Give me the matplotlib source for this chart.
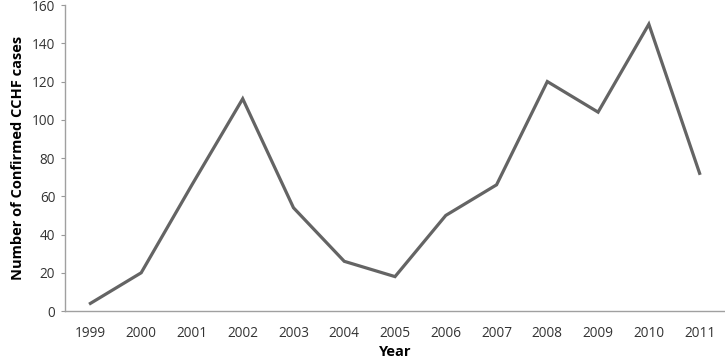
import matplotlib.pyplot as plt

years = ["1999", "2000", "2001", "2002", "2003", "2004", "2005",
         "2006", "2007", "2008", "2009", "2010", "2011"]
cases = [4, 20, 66, 111, 54, 26, 18, 50, 66, 120, 104, 150, 72]
y_ticks = [0, 20, 40, 60, 80, 100, 120, 140, 160]

plt.rcParams['font.family'] = ['Open Sans', 'DejaVu Sans']

fig = plt.figure(figsize=(7.25, 3.6), dpi=100)
ax = fig.add_axes([0.0897, 0.136, 0.9103, 0.850])

x = list(range(len(years)))
ax.plot(x, cases, color="#646464", linewidth=2.3, solid_joinstyle="miter")

ax.set_xlim(-0.5, len(years) - 0.5)
ax.set_ylim(0, 160)
ax.set_xticks(x)
ax.set_xticklabels(years, fontsize=9.8, color="#333333")
ax.set_yticks(y_ticks)
ax.set_yticklabels([str(v) for v in y_ticks], fontsize=9.8, color="#333333")

ax.tick_params(axis="x", length=0, pad=11)
ax.tick_params(axis="y", length=3, color="#999999", pad=4)

for side in ["top", "right"]:
    ax.spines[side].set_visible(False)
for side in ["left", "bottom"]:
    ax.spines[side].set_color("#a0a0a0")
    ax.spines[side].set_linewidth(1.0)

ax.set_xlabel("Year", fontsize=10.5, fontweight="bold", labelpad=3)
ax.set_ylabel("Number of Confirmed CCHF cases", fontsize=10.5, fontweight="bold", labelpad=5)

fig.savefig("out.png", dpi=100)
